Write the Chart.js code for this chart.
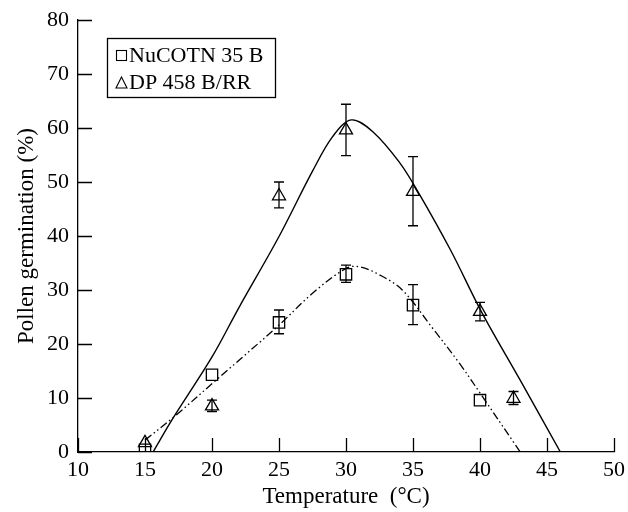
<!DOCTYPE html>
<html>
<head>
<meta charset="utf-8">
<script src="https://cdn.jsdelivr.net/npm/chart.js@4"></script>
<style>
  html, body { margin: 0; padding: 0; background: #fff; }
  #wrap { width: 628px; height: 512px; }
</style>
</head>
<body>
<div id="wrap"><canvas id="chart" width="628" height="512"></canvas></div>
<script>
// NuCOTN 35 B (squares)
const nuTemp = [15, 20, 25, 30, 35, 40];
const nuMean = [0.4, 14.3, 24.0, 32.9, 27.2, 9.6];
const nuLow  = [null, null, 21.9, 31.4, 23.6, null];
const nuHigh = [null, null, 26.3, 34.6, 31.0, null];

// DP 458 B/RR (triangles)
const dpTemp = [15, 20, 25, 30, 35, 40, 42.5];
const dpMean = [1.7, 8.5, 47.4, 59.6, 48.2, 26.0, 9.9];
const dpLow  = [null, 7.5, 45.2, 54.9, 41.9, 24.3, 8.8];
const dpHigh = [null, 9.6, 50.0, 64.4, 54.7, 27.7, 11.2];

// fitted curves
const dpFitX = [15.6, 17, 20, 22, 25, 27.5, 29, 30.4, 32, 34, 35.3, 37.8, 40.1, 43, 46];
const dpFitY = [0, 5.9, 17.6, 26.7, 39.9, 52, 58.4, 61.5, 59.3, 53.6, 48.5, 37.4, 26, 13.3, 0];
const nuFitX = [15, 17.4, 20.3, 25, 27.5, 30, 31, 32.5, 34.2, 36.5, 38.5, 40.2, 43];
const nuFitY = [2.2, 7.0, 13.3, 23.5, 29.4, 34.0, 34.3, 32.8, 30, 22.8, 16.3, 10.2, 0];

const xTicks = [10, 15, 20, 25, 30, 35, 40, 45, 50];
const yTicks = [0, 10, 20, 30, 40, 50, 60, 70, 80];

const legendNames = ["NuCOTN 35 B", "DP 458 B/RR"];

const serif = "'Liberation Serif', 'DejaVu Serif', serif";

const toPts = (xs, ys) => xs.map((x, i) => ({ x: x, y: ys[i] }));

// error bars drawn through the scales
const errorBars = {
  id: 'errorBars',
  afterDatasetsDraw(chart) {
    const { ctx, scales: { x, y } } = chart;
    ctx.save();
    ctx.strokeStyle = '#000';
    ctx.lineWidth = 1.3;
    const draw = (xs, lo, hi) => {
      xs.forEach((t, i) => {
        if (lo[i] == null) return;
        const px = x.getPixelForValue(t);
        const y1 = y.getPixelForValue(lo[i]);
        const y2 = y.getPixelForValue(hi[i]);
        ctx.beginPath();
        ctx.moveTo(px, y1); ctx.lineTo(px, y2);
        ctx.moveTo(px - 5, y1); ctx.lineTo(px + 5, y1);
        ctx.moveTo(px - 5, y2); ctx.lineTo(px + 5, y2);
        ctx.stroke();
      });
    };
    draw(nuTemp, nuLow, nuHigh);
    draw(dpTemp, dpLow, dpHigh);
    ctx.restore();
  }
};

// inward tick marks
const innerTicks = {
  id: 'innerTicks',
  afterDraw(chart) {
    const { ctx, chartArea: a, scales: { x, y } } = chart;
    ctx.save();
    ctx.strokeStyle = '#000';
    ctx.lineWidth = 1.3;
    ctx.beginPath();
    yTicks.forEach(v => {
      const py = Math.round(y.getPixelForValue(v)) + 0.5;
      ctx.moveTo(a.left, py); ctx.lineTo(a.left + 14, py);
    });
    xTicks.forEach(v => {
      const px = Math.round(x.getPixelForValue(v)) + 0.5;
      ctx.moveTo(px, a.bottom); ctx.lineTo(px, a.bottom - 14);
    });
    ctx.stroke();
    ctx.restore();
  }
};

// boxed legend in the upper left corner
const boxLegend = {
  id: 'boxLegend',
  afterDraw(chart) {
    const { ctx } = chart;
    const bx = 107, by = 38, bw = 168, bh = 59;
    ctx.save();
    ctx.strokeStyle = '#000';
    ctx.lineWidth = 1.3;
    ctx.strokeRect(bx + 0.5, by + 0.5, bw, bh);
    ctx.font = "22px " + serif;
    ctx.fillStyle = '#000';
    ctx.textBaseline = 'middle';
    ctx.textAlign = 'left';
    const rows = [55, 82];
    // square marker
    ctx.lineWidth = 1.1;
    ctx.strokeRect(116.5, rows[0] - 4.5, 10, 10);
    ctx.fillText(legendNames[0], 129, rows[0] + 1);
    // triangle marker
    ctx.beginPath();
    ctx.moveTo(121.5, rows[1] - 5);
    ctx.lineTo(127, rows[1] + 6);
    ctx.lineTo(116, rows[1] + 6);
    ctx.closePath();
    ctx.stroke();
    ctx.fillText(legendNames[1], 129, rows[1] + 1);
    ctx.restore();
  }
};

new Chart(document.getElementById('chart'), {
  type: 'scatter',
  data: {
    datasets: [
      {
        label: legendNames[0],
        data: toPts(nuTemp, nuMean),
        pointStyle: 'rect',
        pointRadius: 8,
        borderColor: '#000',
        backgroundColor: 'rgba(0,0,0,0)',
        borderWidth: 1.3,
        showLine: false
      },
      {
        label: legendNames[1],
        data: toPts(dpTemp, dpMean),
        pointStyle: 'triangle',
        pointRadius: 7.5,
        borderColor: '#000',
        backgroundColor: 'rgba(0,0,0,0)',
        borderWidth: 1.3,
        showLine: false
      },
      {
        label: 'DP fit',
        data: toPts(dpFitX, dpFitY),
        showLine: true,
        borderColor: '#000',
        borderWidth: 1.4,
        pointRadius: 0,
        tension: 0.35,
        fill: false
      },
      {
        label: 'NuCOTN fit',
        data: toPts(nuFitX, nuFitY),
        showLine: true,
        borderColor: '#000',
        borderWidth: 1.3,
        borderDash: [8, 3, 1.5, 3, 1.5, 3],
        pointRadius: 0,
        tension: 0.35,
        fill: false
      }
    ]
  },
  options: {
    responsive: false,
    animation: false,
    layout: { padding: { top: 20, right: 14, left: 0, bottom: 0 } },
    plugins: {
      legend: { display: false },
      tooltip: { enabled: false }
    },
    scales: {
      x: {
        type: 'linear',
        min: 10,
        max: 50,
        afterFit: s => { s.height = 60; },
        afterBuildTicks: s => { s.ticks = xTicks.map(v => ({ value: v })); },
        grid: { display: false },
        border: { display: true, color: '#000', width: 1.3 },
        ticks: { color: '#000', padding: -3, font: { family: serif, size: 22 } },
        title: {
          display: true,
          text: 'Temperature  (°C)',
          color: '#000',
          font: { family: serif, size: 23 },
          padding: { top: 0, bottom: 1 }
        }
      },
      y: {
        type: 'linear',
        min: 0,
        max: 80,
        afterFit: s => { s.width = 78; },
        afterBuildTicks: s => { s.ticks = yTicks.map(v => ({ value: v })); },
        grid: { display: false },
        border: { display: true, color: '#000', width: 1.3 },
        ticks: { color: '#000', padding: 1, font: { family: serif, size: 22 } },
        title: {
          display: true,
          text: 'Pollen germination (%)',
          color: '#000',
          font: { family: serif, size: 23 },
          padding: { top: 13, bottom: 0 }
        }
      }
    }
  },
  plugins: [errorBars, innerTicks, boxLegend]
});
</script>
</body>
</html>
